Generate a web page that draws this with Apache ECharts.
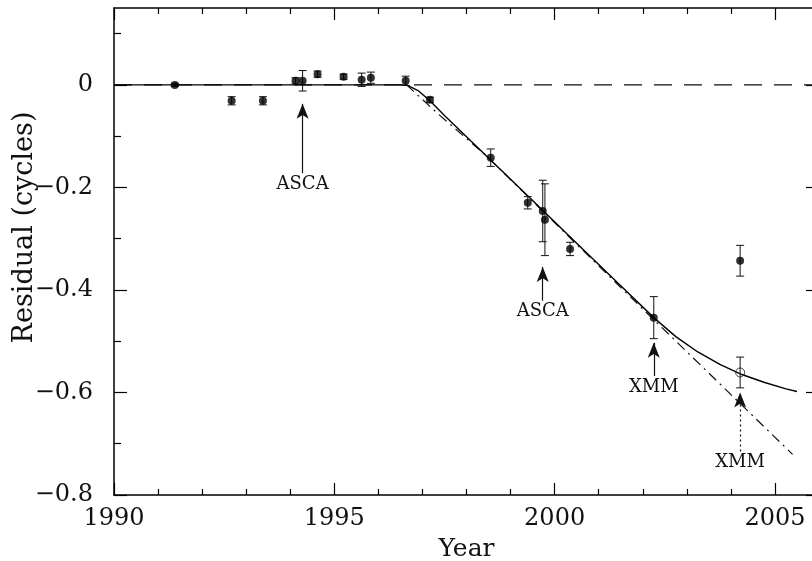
<!DOCTYPE html>
<html>
<head>
<meta charset="utf-8">
<script src="https://cdn.jsdelivr.net/npm/echarts@6/dist/echarts.min.js"></script>
<style>html,body{margin:0;padding:0;background:#fff;}#chart{width:812px;height:561px;}</style>
</head>
<body>
<div id="chart"></div>
<script>
// ---- data ----
var obsYear = [1991.38, 1992.67, 1993.38, 1994.12, 1994.28, 1994.62, 1995.21, 1995.62, 1995.83, 1996.62, 1997.17, 1998.55, 1999.39, 1999.73, 1999.78, 2000.35, 2002.25, 2004.21];
var obsVal  = [0.000, -0.031, -0.031, 0.008, 0.008, 0.021, 0.016, 0.010, 0.014, 0.008, -0.029, -0.142, -0.230, -0.246, -0.263, -0.320, -0.454, -0.343];
var obsErr  = [0.003, 0.008, 0.008, 0.006, 0.020, 0.006, 0.005, 0.013, 0.011, 0.009, 0.005, 0.017, 0.012, 0.060, 0.070, 0.013, 0.041, 0.030];
var openYear = [2004.21];
var openVal  = [-0.561];
var openErr  = [0.030];
var modelYear = [1990, 1996.64, 1996.90, 1997.17, 1997.50, 1998.00, 1998.50, 1999.50, 2000.50, 2001.50, 2002.25, 2002.75, 2003.25, 2003.75, 2004.25, 2004.75, 2005.25, 2005.50];
var modelVal  = [0, 0, -0.011, -0.031, -0.0595, -0.101, -0.1425, -0.2255, -0.309, -0.392, -0.454, -0.491, -0.521, -0.545, -0.565, -0.580, -0.593, -0.598];
var linYear = [1996.64, 1997.33, 1998.42, 2002.25, 2005.40];
var linVal  = [0, -0.0546, -0.136, -0.458, -0.7207];
var zeroYear = [1990, 2006];
var zeroVal  = [0, 0];
var annoYear = [1994.28, 1999.73, 2002.25, 2004.21];
var annoTip  = [-0.037, -0.355, -0.503, -0.600];
var annoTail = [-0.172, -0.421, -0.568, -0.715];
var annoText = ['ASCA', 'ASCA', 'XMM', 'XMM'];
var xMajor = [1990, 1995, 2000, 2005];
var xMinor = [1991, 1992, 1993, 1994, 1996, 1997, 1998, 1999, 2001, 2002, 2003, 2004];
var yMajor = [-0.8, -0.6, -0.4, -0.2, 0];
var yMinor = [-0.7, -0.5, -0.3, -0.1, 0.1];

// ---- chart ----
var FONT = 'DejaVu Serif';
var chart = echarts.init(document.getElementById('chart'), null, {renderer: 'canvas'});

function pairs(xs, ys) { return xs.map(function (x, i) { return [x, ys[i]]; }); }
function errData(xs, ys, es) { return xs.map(function (x, i) { return [x, ys[i] - es[i], ys[i] + es[i]]; }); }

function xAxisDef(pos, vals, len, main) {
  return {
    type: 'value', position: pos, min: 1990, max: 2006,
    axisLine: {show: main, onZero: false, lineStyle: {color: '#000', width: 1.5}},
    axisTick: {show: true, inside: true, length: len, customValues: vals, lineStyle: {color: '#000', width: 1.2}},
    axisLabel: (pos === 'bottom' && main) ? {show: true, customValues: vals, margin: 12, fontFamily: FONT, fontSize: 24, color: '#111',
      formatter: function (v) { return String(Math.round(v)); }} : {show: false},
    splitLine: {show: false},
    name: (pos === 'bottom' && main) ? 'Year' : '',
    nameLocation: 'middle', nameGap: 42, nameMoveOverlap: false,
    nameTextStyle: {fontFamily: FONT, fontSize: 25, color: '#111'}
  };
}
function yAxisDef(pos, vals, len, main) {
  return {
    type: 'value', position: pos, min: -0.8, max: 0.15,
    axisLine: {show: main, onZero: false, lineStyle: {color: '#000', width: 1.5}},
    axisTick: {show: true, inside: true, length: len, customValues: vals, lineStyle: {color: '#000', width: 1.2}},
    axisLabel: (pos === 'left' && main) ? {show: true, customValues: vals, margin: 21, fontFamily: FONT, fontSize: 24, color: '#111',
      formatter: function (v) { return Math.abs(v) < 1e-9 ? '0' : v.toFixed(1).replace('-', '\u2212'); }} : {show: false},
    splitLine: {show: false},
    name: (pos === 'left' && main) ? 'Residual (cycles)' : '',
    nameLocation: 'middle', nameGap: 76, nameRotate: 90, nameMoveOverlap: false,
    nameTextStyle: {fontFamily: FONT, fontSize: 27, color: '#111', padding: [0, 0, 0, 48]}
  };
}

function errorBarSeries(data) {
  return {
    type: 'custom', xAxisIndex: 0, yAxisIndex: 0, z: 3, silent: true,
    renderItem: function (params, api) {
      var x = api.value(0);
      var p1 = api.coord([x, api.value(2)]);
      var p2 = api.coord([x, api.value(1)]);
      var w = 4;
      var st = {stroke: '#111', lineWidth: 1};
      return {type: 'group', children: [
        {type: 'line', shape: {x1: p1[0], y1: p1[1], x2: p2[0], y2: p2[1]}, style: st},
        {type: 'line', shape: {x1: p1[0] - w, y1: p1[1], x2: p1[0] + w, y2: p1[1]}, style: st},
        {type: 'line', shape: {x1: p2[0] - w, y1: p2[1], x2: p2[0] + w, y2: p2[1]}, style: st}
      ]};
    },
    encode: {x: 0, y: [1, 2]},
    data: data
  };
}

var annoLines = annoYear.map(function (x, i) {
  return [
    {coord: [x, annoTail[i]], symbol: 'none', label: {show: true, position: 'start', formatter: annoText[i], distance: 2,
      fontFamily: FONT, fontSize: 18, color: '#111'},
      lineStyle: i === 3 ? {type: [2, 3]} : {type: 'solid'}},
    {coord: [x, annoTip[i]], symbol: 'arrow', symbolSize: [9, 15]}
  ];
});

var option = {
  animation: false,
  backgroundColor: '#fff',
  grid: {left: 114, right: -7, top: 8, bottom: 66, containLabel: false, outerBoundsMode: 'none'},
  xAxis: [
    xAxisDef('bottom', xMajor, 12, true),
    xAxisDef('bottom', xMinor, 6, false),
    xAxisDef('top', xMajor, 12, true),
    xAxisDef('top', xMinor, 6, false)
  ],
  yAxis: [
    yAxisDef('left', yMajor, 13, true),
    yAxisDef('left', yMinor, 7, false),
    yAxisDef('right', yMajor, 13, true),
    yAxisDef('right', yMinor, 7, false)
  ],
  series: [
    {type: 'line', xAxisIndex: 0, yAxisIndex: 0, data: pairs(zeroYear, zeroVal), showSymbol: false, symbol: 'none', silent: true,
      lineStyle: {color: '#111', width: 1.2, type: [18, 12]}, z: 1},
    {type: 'line', xAxisIndex: 0, yAxisIndex: 0, data: pairs(linYear, linVal), showSymbol: false, symbol: 'none', silent: true,
      lineStyle: {color: '#111', width: 1.2, type: [10, 5, 2, 5]}, z: 2,
      markLine: {silent: true, animation: false, symbol: ['none', 'arrow'],
        lineStyle: {color: '#111', width: 1.2, type: 'solid'},
        emphasis: {disabled: true},
        data: annoLines}},
    {type: 'line', xAxisIndex: 0, yAxisIndex: 0, data: pairs(modelYear, modelVal), showSymbol: false, symbol: 'none', silent: true,
      smooth: false, lineStyle: {color: '#000', width: 1.4}, z: 2},
    errorBarSeries(errData(obsYear, obsVal, obsErr)),
    errorBarSeries(errData(openYear, openVal, openErr)),
    {type: 'scatter', xAxisIndex: 0, yAxisIndex: 0, data: pairs(obsYear, obsVal), symbol: 'circle', symbolSize: 8,
      itemStyle: {color: '#000'}, silent: true, z: 4},
    {type: 'scatter', xAxisIndex: 0, yAxisIndex: 0, data: pairs(openYear, openVal), symbol: 'circle', symbolSize: 9,
      itemStyle: {color: 'rgba(255,255,255,0)', borderColor: '#111', borderWidth: 1}, silent: true, z: 4}
  ]
};
chart.setOption(option);
</script>
</body>
</html>
